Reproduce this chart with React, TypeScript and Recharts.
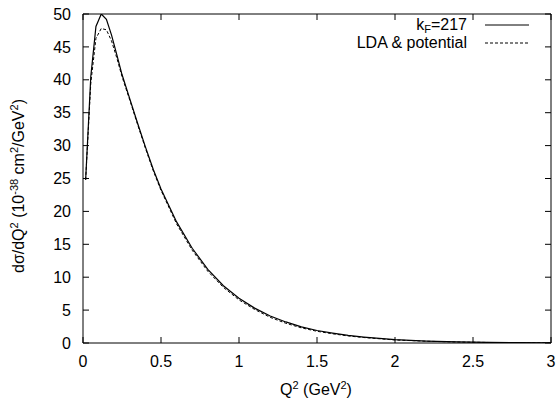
import { Line, LineChart, XAxis, YAxis } from "recharts";

const q2 = [
  0.017, 0.05, 0.083, 0.117, 0.15, 0.183, 0.217, 0.25, 0.3, 0.35, 0.4, 0.45, 0.5, 0.6, 0.7, 0.8, 0.9, 1.0, 1.1,
  1.2, 1.3, 1.4, 1.5, 1.6, 1.7, 1.8, 2.0, 2.2, 2.4, 2.6, 2.8, 3.0,
];
const kfSeries = [
  24.8, 40.5, 48.1, 50.0, 49.2, 46.8, 43.8, 40.8, 37.1, 33.4, 29.8, 26.4, 23.4, 18.4, 14.4, 11.2, 8.7, 6.8, 5.3,
  4.1, 3.2, 2.45, 1.9, 1.5, 1.15, 0.9, 0.5, 0.3, 0.17, 0.09, 0.05, 0.02,
];
const ldaSeries = [
  24.8, 39.5, 46.3, 47.8, 47.6, 45.9, 43.3, 40.5, 36.9, 33.2, 29.6, 26.2, 23.2, 18.1, 14.1, 10.9, 8.45, 6.55, 5.1,
  3.9, 3.0, 2.3, 1.78, 1.4, 1.07, 0.83, 0.46, 0.27, 0.15, 0.08, 0.045, 0.02,
];
const xTicks = [0, 0.5, 1, 1.5, 2, 2.5, 3];
const yTicks = [0, 5, 10, 15, 20, 25, 30, 35, 40, 45, 50];

const data = q2.map((q, i) => ({ q, kf: kfSeries[i], lda: ldaSeries[i] }));

const font = "'Liberation Sans', Arial, Helvetica, sans-serif";
const tick = { fontSize: 16, fill: "#000", fontFamily: font };
const axisLine = { stroke: "#000", strokeWidth: 1 };
const noLabel = () => <g />;

function YLabel() {
  return (
    <text
      x={0}
      y={0}
      transform="translate(24,186) rotate(-90)"
      textAnchor="middle"
      fontSize={16}
      fontFamily={font}
      fill="#000"
    >
      dσ/dQ<tspan dy={-6} fontSize={11}>2</tspan>
      <tspan dy={6}> (10</tspan>
      <tspan dy={-6} fontSize={11}>-38</tspan>
      <tspan dy={6}> cm</tspan>
      <tspan dy={-6} fontSize={11}>2</tspan>
      <tspan dy={6}>/GeV</tspan>
      <tspan dy={-6} fontSize={11}>2</tspan>
      <tspan dy={6}>)</tspan>
    </text>
  );
}

function XLabel() {
  return (
    <text x={316} y={395} textAnchor="middle" fontSize={16} fontFamily={font} fill="#000">
      Q<tspan dy={-6} fontSize={11}>2</tspan>
      <tspan dy={6}> (GeV</tspan>
      <tspan dy={-6} fontSize={11}>2</tspan>
      <tspan dy={6}>)</tspan>
    </text>
  );
}

const legendRow: React.CSSProperties = {
  position: "absolute",
  right: 556 - 467,
  fontSize: 16,
  fontFamily: font,
  lineHeight: "18px",
  whiteSpace: "nowrap",
};

export default function App() {
  return (
    <div style={{ position: "absolute", left: 0, top: 0, width: 556, height: 405, background: "#fff" }}>
      <LineChart width={556} height={405} data={data} margin={{ top: 13, right: 4, bottom: 22, left: 23 }}>
        <XAxis
          dataKey="q"
          type="number"
          domain={[0, 3]}
          allowDataOverflow
          ticks={xTicks}
          height={40}
          tick={tick}
          axisLine={axisLine}
          tickLine={axisLine}
          tickSize={-6}
          tickMargin={19}
        />
        <XAxis
          xAxisId="top"
          dataKey="q"
          orientation="top"
          type="number"
          domain={[0, 3]}
          allowDataOverflow
          ticks={xTicks}
          height={1}
          tick={noLabel}
          axisLine={axisLine}
          tickLine={axisLine}
          tickSize={-6}
        />
        <YAxis
          type="number"
          domain={[0, 50]}
          allowDataOverflow
          ticks={yTicks}
          width={60}
          tick={tick}
          axisLine={axisLine}
          tickLine={axisLine}
          tickSize={-6}
          tickMargin={18}
          label={{ content: () => <YLabel /> }}
        />
        <YAxis
          yAxisId="right"
          orientation="right"
          type="number"
          domain={[0, 50]}
          allowDataOverflow
          ticks={yTicks}
          width={1}
          tick={noLabel}
          axisLine={axisLine}
          tickLine={axisLine}
          tickSize={-6}
        />
        <Line
          dataKey="kf"
          type="linear"
          stroke="#000"
          strokeWidth={1.2}
          dot={false}
          isAnimationActive={false}
        />
        <Line
          dataKey="lda"
          type="linear"
          stroke="#000"
          strokeWidth={1}
          strokeDasharray="3 2"
          dot={false}
          isAnimationActive={false}
        />
      </LineChart>
      <svg width={556} height={405} style={{ position: "absolute", left: 0, top: 0, pointerEvents: "none" }}>
        <XLabel />
        <line x1={485} x2={529} y1={25} y2={25} stroke="#000" strokeWidth={1} />
        <line x1={485} x2={529} y1={43} y2={43} stroke="#000" strokeWidth={1} strokeDasharray="3 2" />
      </svg>
      <div style={{ ...legendRow, top: 16 }}>
        k<sub style={{ fontSize: 11, verticalAlign: "-3px" }}>F</sub>=217
      </div>
      <div style={{ ...legendRow, top: 34 }}>LDA &amp; potential</div>
    </div>
  );
}
